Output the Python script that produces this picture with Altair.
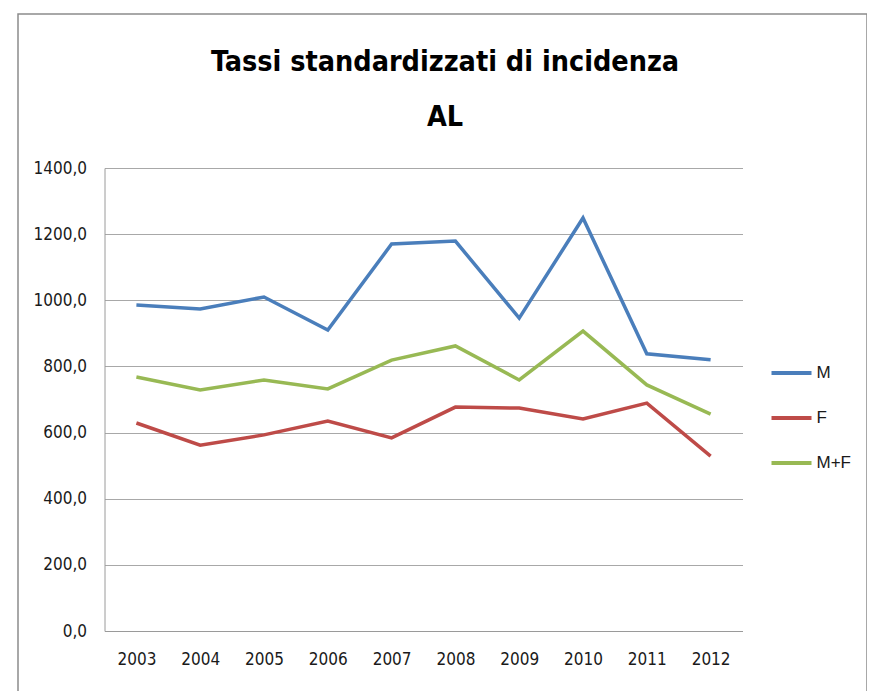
import altair as alt
import pandas as pd

years = ["2003", "2004", "2005", "2006", "2007", "2008", "2009", "2010", "2011", "2012"]
m_vals = [986, 974, 1010, 910, 1170, 1179, 946, 1249, 838, 820]
f_vals = [629, 562, 593, 635, 584, 677, 674, 641, 689, 529]
mf_vals = [768, 729, 759, 732, 819, 862, 759, 907, 744, 656]
series = ["M", "F", "M+F"]
colors = ["#4A7EBB", "#BE4B48", "#98B954"]
y_ticks = [0, 200, 400, 600, 800, 1000, 1200, 1400]
title_lines = ["Tassi standardizzati di incidenza", "AL"]

rows = []
for name, vals in zip(series, [m_vals, f_vals, mf_vals]):
    for yr, v in zip(years, vals):
        rows.append({"Anno": yr, "Serie": name, "Valore": v})
df = pd.DataFrame(rows)

FONT = "DejaVu Sans Condensed"
W, H = 638, 463

lines = alt.Chart(df).mark_line(strokeWidth=3.5, strokeJoin="miter").encode(
    x=alt.X("Anno:O", sort=years, title=None,
            scale=alt.Scale(type="point", padding=0.5),
            axis=alt.Axis(labelAngle=0, ticks=False, domain=True, domainColor="#9a9a9a",
                          labelFont=FONT, labelFontSize=17, labelColor="#1a1a1a",
                          labelPadding=20, grid=False)),
    y=alt.Y("Valore:Q", title=None,
            scale=alt.Scale(domain=[0, 1400], nice=False),
            axis=alt.Axis(values=y_ticks, ticks=False, domain=True, domainColor="#9a9a9a",
                          grid=True, gridColor="#a8a8a8", gridWidth=1.2,
                          labelFont=FONT, labelFontSize=17, labelColor="#1a1a1a",
                          labelPadding=18,
                          labelExpr="replace(format(datum.value, '.1f'), '.', ',')")),
    color=alt.Color("Serie:N", sort=series,
                    scale=alt.Scale(domain=series, range=colors),
                    legend=alt.Legend(title=None, orient="none", legendX=665, legendY=183,
                                      symbolType="stroke", symbolSize=1600,
                                      symbolStrokeWidth=4, labelFont="Liberation Sans",
                                      labelFontSize=17, labelColor="#1a1a1a",
                                      rowPadding=15, labelOffset=3)),
)

frame = alt.Chart(pd.DataFrame({"a": [0]})).mark_rect(
    fill=None, stroke="#8c8c8c", strokeWidth=1.5, clip=False
).encode(
    x=alt.value(-86.5), x2=alt.value(762.5), y=alt.value(-154), y2=alt.value(700)
)

title1 = alt.Chart(pd.DataFrame({"t": [title_lines[0]]})).mark_text(
    font=FONT, fontSize=28.5, fontWeight="bold", color="#000000",
    align="center", baseline="alphabetic", clip=False
).encode(text="t:N", x=alt.value(340.5), y=alt.value(-97))

title2 = alt.Chart(pd.DataFrame({"t": [title_lines[1]]})).mark_text(
    font=FONT, fontSize=28.5, fontWeight="bold", color="#000000",
    align="center", baseline="alphabetic", clip=False
).encode(text="t:N", x=alt.value(340.5), y=alt.value(-42))

chart = alt.layer(frame, lines, title1, title2).properties(
    width=W, height=H,
    background="white",
    autosize=alt.AutoSizeParams(type="none"),
    padding={"left": 96.5, "top": 160, "right": 875 - 16 - 96.5 - W, "bottom": 691 - 16 - 160 - H + 8},
).configure_view(strokeWidth=0, stroke="transparent")

chart.save("out.html", embed_options={"renderer": "svg", "actions": False})
